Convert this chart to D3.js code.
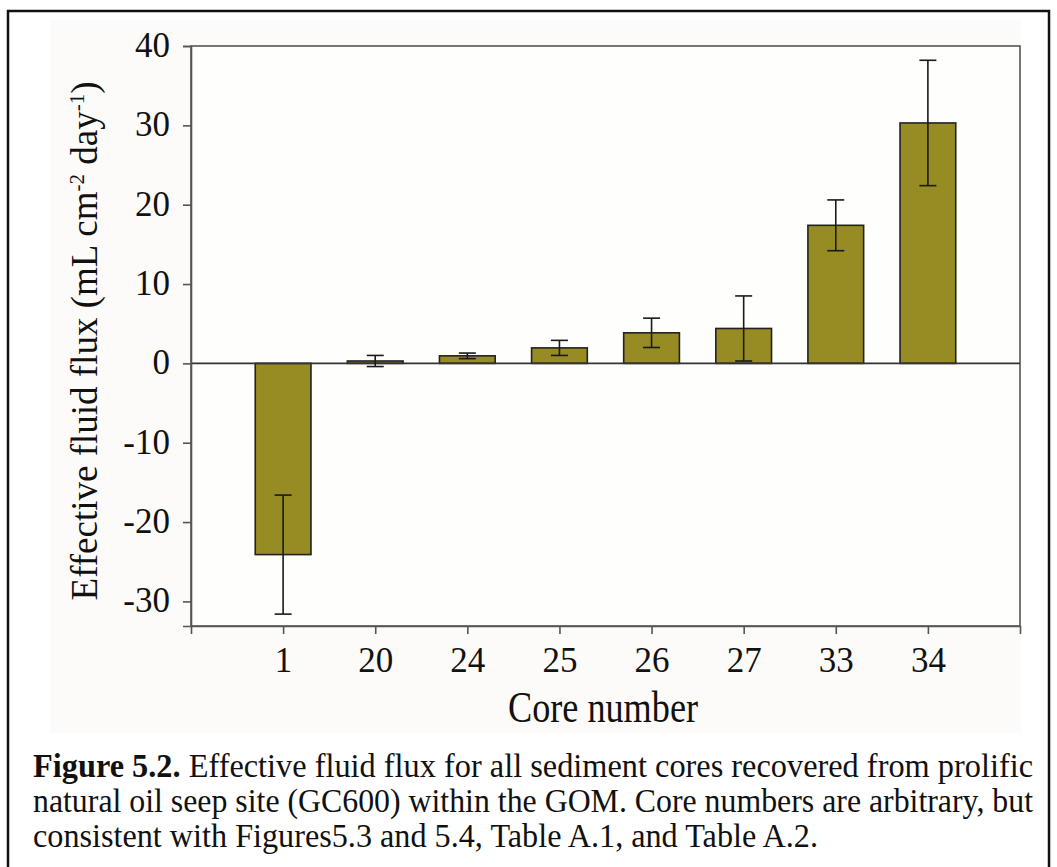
<!DOCTYPE html>
<html>
<head>
<meta charset="utf-8">
<script src="https://cdn.jsdelivr.net/npm/d3@7"></script>
<style>
  html, body { margin: 0; padding: 0; background: #ffffff; }
  svg { display: block; }
  text { font-family: "Liberation Serif", "Times New Roman", serif; fill: #111; }
</style>
</head>
<body>
<svg id="chart" width="1057" height="867"></svg>
<script>
// Core numbers, mean effective fluid flux and its error (mL cm^-2 day^-1)
const cores = ["1", "20", "24", "25", "26", "27", "33", "34"];
const flux = [-24.1, 0.3, 0.95, 1.95, 3.85, 4.4, 17.4, 30.3];
const fluxErr = [7.5, 0.7, 0.35, 0.95, 1.85, 4.1, 3.2, 7.9];
const yTicks = [-30, -20, -10, 0, 10, 20, 30, 40];

const captionLines = [
  [{ t: "Figure 5.2.", bold: true }, { t: " Effective fluid flux for all sediment cores recovered from prolific" }],
  [{ t: "natural oil seep site (GC600) within the GOM. Core numbers are arbitrary, but" }],
  [{ t: "consistent with Figures5.3 and 5.4, Table A.1, and Table A.2." }]
];

const svg = d3.select("#chart");
const plot = { left: 191, right: 1020, top: 46, bottom: 626 };

// outer frame of the figure
svg.append("rect")
  .attr("x", 8).attr("y", 11)
  .attr("width", 1041).attr("height", 880)
  .attr("fill", "#ffffff")
  .attr("stroke", "#111").attr("stroke-width", 2.5);

// faint panel behind the chart
svg.append("rect")
  .attr("x", 50).attr("y", 20)
  .attr("width", 971).attr("height", 713)
  .attr("fill", "#fcfbf9");

const x = d3.scalePoint().domain(cores).range([plot.left, plot.right]).padding(1);
const y = d3.scaleLinear().domain([-33.1, 40]).range([plot.bottom, plot.top]);
const barW = x.step() * 0.605;

const data = cores.map((c, i) => ({ core: c, v: flux[i], e: fluxErr[i] }));

// plot box
svg.append("rect")
  .attr("x", plot.left).attr("y", plot.top)
  .attr("width", plot.right - plot.left).attr("height", plot.bottom - plot.top)
  .attr("fill", "#fefefd")
  .attr("stroke", "#555").attr("stroke-width", 1.6);

// bars
svg.append("g").selectAll("rect").data(data).join("rect")
  .attr("x", d => x(d.core) - barW / 2)
  .attr("y", d => y(Math.max(0, d.v)))
  .attr("width", barW)
  .attr("height", d => Math.abs(y(d.v) - y(0)))
  .attr("fill", "#978b24")
  .attr("stroke", "#222").attr("stroke-width", 1.6);

// zero line
svg.append("line")
  .attr("x1", plot.left).attr("x2", plot.right)
  .attr("y1", y(0)).attr("y2", y(0))
  .attr("stroke", "#333").attr("stroke-width", 1.6);

// error bars
const capW = 17;
const eb = svg.append("g").attr("stroke", "#1a1a1a").attr("stroke-width", 1.6);
eb.selectAll("line.v").data(data).join("line").attr("class", "v")
  .attr("x1", d => x(d.core)).attr("x2", d => x(d.core))
  .attr("y1", d => y(d.v - d.e)).attr("y2", d => y(d.v + d.e));
eb.selectAll("line.hi").data(data).join("line").attr("class", "hi")
  .attr("x1", d => x(d.core) - capW / 2).attr("x2", d => x(d.core) + capW / 2)
  .attr("y1", d => y(d.v + d.e)).attr("y2", d => y(d.v + d.e));
eb.selectAll("line.lo").data(data).join("line").attr("class", "lo")
  .attr("x1", d => x(d.core) - capW / 2).attr("x2", d => x(d.core) + capW / 2)
  .attr("y1", d => y(d.v - d.e)).attr("y2", d => y(d.v - d.e));

// y axis
const yAxis = svg.append("g")
  .attr("transform", `translate(${plot.left},0)`)
  .call(d3.axisLeft(y).tickValues(yTicks).tickSize(8).tickPadding(13).tickFormat(d => String(d)));
yAxis.select(".domain").attr("stroke", "#555").attr("stroke-width", 1.6);
yAxis.selectAll(".tick line").attr("stroke", "#555").attr("stroke-width", 1.6);
yAxis.selectAll(".tick text")
  .attr("font-family", "Liberation Serif, serif")
  .attr("font-size", 35).attr("fill", "#111").attr("dy", "0.3em");

// x axis
const xAxis = svg.append("g")
  .attr("transform", `translate(0,${plot.bottom})`)
  .call(d3.axisBottom(x).tickSize(8).tickPadding(13));
xAxis.select(".domain").attr("stroke", "#555").attr("stroke-width", 1.6);
xAxis.selectAll(".tick line").attr("stroke", "#555").attr("stroke-width", 1.6);
xAxis.selectAll(".tick text")
  .attr("font-family", "Liberation Serif, serif")
  .attr("font-size", 35).attr("fill", "#111").attr("dy", "0.72em");

// axis titles
svg.append("text")
  .attr("x", 603).attr("y", 722)
  .attr("text-anchor", "middle")
  .attr("font-size", 45)
  .attr("textLength", 190).attr("lengthAdjust", "spacingAndGlyphs")
  .text("Core number");

const yt = svg.append("text")
  .attr("transform", "translate(97,341) rotate(-90)")
  .attr("text-anchor", "middle")
  .attr("font-size", 37);
yt.append("tspan").text("Effective fluid flux (mL cm");
yt.append("tspan").attr("font-size", 21).attr("dy", -13).text("-2");
yt.append("tspan").attr("dy", 13).text(" day");
yt.append("tspan").attr("font-size", 21).attr("dy", -13).text("-1");
yt.append("tspan").attr("dy", 13).text(")");

// caption
const capY = [777, 812, 847];
const capLen = [1000, 1000, 785];
captionLines.forEach((parts, i) => {
  const t = svg.append("text")
    .attr("x", 33).attr("y", capY[i])
    .attr("font-size", 33)
    .attr("textLength", capLen[i]).attr("lengthAdjust", "spacingAndGlyphs");
  parts.forEach(p => {
    t.append("tspan").attr("font-weight", p.bold ? "bold" : "normal").text(p.t);
  });
});
</script>
</body>
</html>
